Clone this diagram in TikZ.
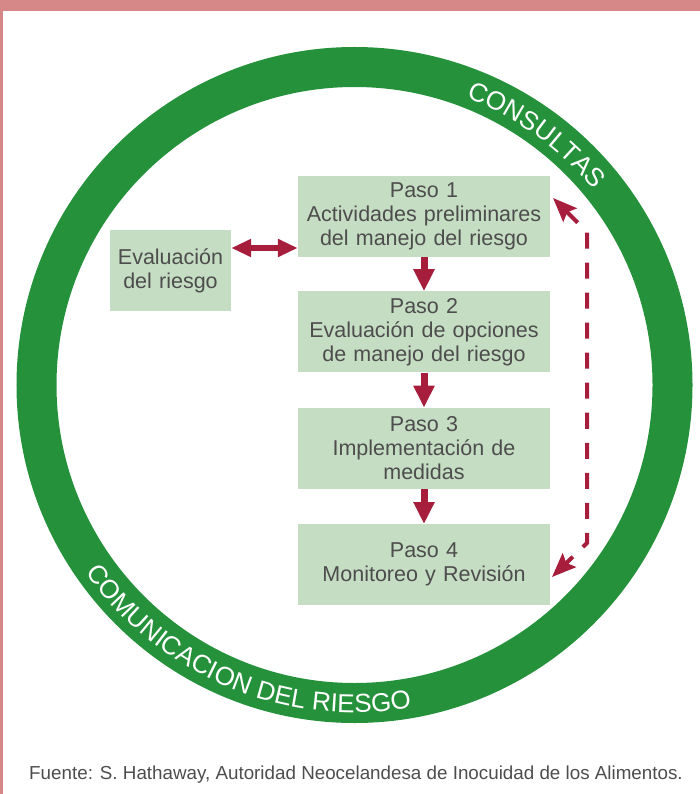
\documentclass[tikz,border=0pt]{standalone}
\usepackage{fontspec}
\setmainfont{Liberation Sans}
\usetikzlibrary{arrows.meta,positioning,calc,decorations.text}
\definecolor{ringgreen}{RGB}{37,146,59}
\definecolor{boxgreen}{RGB}{197,221,194}
\definecolor{linkred}{RGB}{167,30,61}
\definecolor{framepink}{RGB}{213,136,135}
\definecolor{textgray}{RGB}{77,77,77}
\newcommand{\boxfont}{\fontsize{21.5}{24}\selectfont}
\newcommand{\ringfont}{\fontsize{26}{26}\selectfont}

\begin{document}
\begin{tikzpicture}
[x=1pt,y=-1pt,
stepbox/.style={fill=boxgreen,text=textgray,minimum width=252pt,minimum height=81pt,
text width=240pt,align=center,inner sep=0pt,font=\boxfont},
riskbox/.style={stepbox,minimum width=121pt,text width=115pt},
edge/.style={linkred,line width=7pt,-{Triangle[length=22pt,width=20pt]}},
biedge/.style={linkred,line width=6pt,{Triangle[length=20pt,width=17pt]}-{Triangle[length=20pt,width=17pt]}},
dashlink/.style={linkred,line width=4pt,dash pattern=on 16pt off 14pt,
{Stealth[length=24pt,width=19pt,inset=4pt]}-{Stealth[length=24pt,width=19pt,inset=4pt]}}]
\useasboundingbox (0,0) rectangle (700,794);
%% frame
\fill[framepink] (0,0) rectangle (700,11);
\fill[framepink] (0,11) rectangle (3,794);
%% ring
\coordinate (ctr) at (354.5,385);
\draw[ringgreen,line width=40pt] (ctr) circle[radius=318pt];
\path[decorate,decoration={text along path,text align=center,
text={|\color{white}\ringfont|CONSULTAS}}]
($(ctr)+(94:308.5pt)$) arc[start angle=94,end angle=14,radius=308.5pt];
\path[decorate,decoration={text along path,text align=center,
text={|\color{white}\ringfont|COMUNICACION DEL RIESGO}}]
($(ctr)+(187.5:327.5pt)$) arc[start angle=187.5,end angle=307.5,radius=327.5pt];
%% steps
\node (paso1) [stepbox] at (424,216.5) {Paso 1\\Actividades preliminares\\del manejo del riesgo};
\node (paso2) [stepbox,below=34pt of paso1] {Paso 2\\Evaluación de opciones\\de manejo del riesgo};
\node (paso3) [stepbox,below=35pt of paso2] {Paso 3\\Implementación de\\medidas};
\node (paso4) [stepbox,below=35pt of paso3] {Paso 4\\Monitoreo y Revisión};
\node (evalr) [riskbox] at (170.5,270.5) {Evaluación\\del riesgo};
%%
\draw[edge] (paso1) -- (paso2);
\draw[edge] (paso2) -- (paso3);
\draw[edge] (paso3) -- (paso4);
\coordinate (lk) at (0,248);
\draw[biedge] (evalr.east |- lk) -- (paso1.west |- lk);
\coordinate (t1) at (553,198);
\coordinate (d1) at (587,232);
\coordinate (d2) at (587,543);
\coordinate (t4) at (552,577);
\draw[dashlink] (t1) -- (d1) -- (d2) -- (t4);
%% source
\node (src) [text=textgray,font=\fontsize{18.8}{22}\selectfont] at (356,775)
{Fuente: S. Hathaway, Autoridad Neocelandesa de Inocuidad de los Alimentos.};
\end{tikzpicture}
\end{document}
